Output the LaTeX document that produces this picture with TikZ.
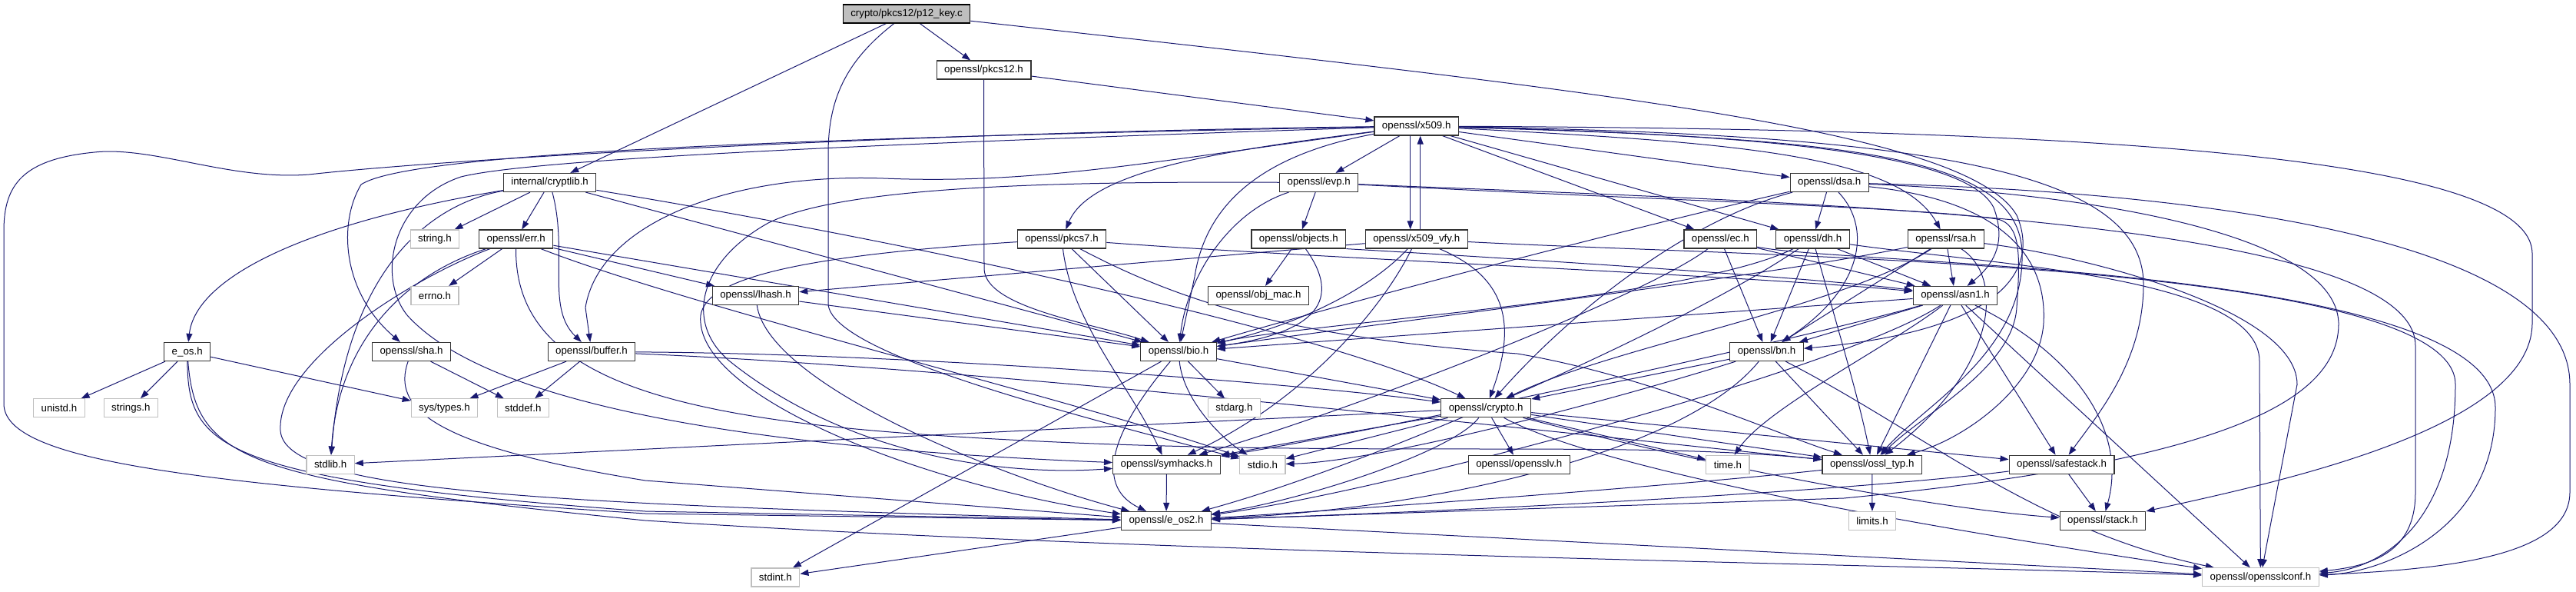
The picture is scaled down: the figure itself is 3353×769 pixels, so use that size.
\documentclass[tikz,border=0pt]{standalone}
\usepackage{fontspec}
\setmainfont{Liberation Sans}
\usetikzlibrary{arrows.meta}
\definecolor{edgeblue}{HTML}{191970}
\definecolor{grey75}{HTML}{BFBFBF}
\pgfdeclarelayer{bg}
\pgfsetlayers{bg,main}
\begin{document}
\begin{tikzpicture}[x=1pt,y=-1pt,
  nb/.style={draw=black!80, fill=white, line width=1.2pt, minimum height=24pt,
    inner xsep=10pt, inner ysep=0pt, font=\fontsize{13.3}{15}\selectfont},
  ns/.style={nb, draw=grey75},
  nr/.style={nb, fill=grey75, draw=black},
  e/.style={draw=edgeblue, line width=1pt, -{Triangle[length=11pt,width=8pt]}}]
\useasboundingbox (0,0) rectangle (3353,769);
% nodes
\node[nr] (root) at (1180,18) {crypto/pkcs12/p12\_key.c};
\node[nb] (pkcs12) at (1280.5,91) {openssl/pkcs12.h};
\node[nb] (x509) at (1843.7,164) {openssl/x509.h};
\node[nb] (cryptlib) at (715.6,237.5) {internal/cryptlib.h};
\node[nb] (evp) at (1716.7,237.5) {openssl/evp.h};
\node[nb] (dsa) at (2381.2,237.5) {openssl/dsa.h};
\node[nb] (err) at (671.7,311) {openssl/err.h};
\node[ns] (strh) at (566,311) {string.h};
\node[nb] (objects) at (1690.3,311) {openssl/objects.h};
\node[nb] (vfy) at (1843.7,311) {openssl/x509\_vfy.h};
\node[nb] (pkcs7) at (1382,311) {openssl/pkcs7.h};
\node[nb] (ec) at (2239.3,311) {openssl/ec.h};
\node[nb] (dh) at (2359.5,311) {openssl/dh.h};
\node[nb] (rsa) at (2532.8,311) {openssl/rsa.h};
\node[ns] (errno) at (566,384.5) {errno.h};
\node[nb] (lhash) at (983.5,384.5) {openssl/lhash.h};
\node[nb] (objmac) at (1638,384.5) {openssl/obj\_mac.h};
\node[nb] (asn1) at (2545,384.5) {openssl/asn1.h};
\node[nb] (eos) at (243.7,457.5) {e\_os.h};
\node[nb] (sha) at (535.6,457.5) {openssl/sha.h};
\node[nb] (buffer) at (770,457.5) {openssl/buffer.h};
\node[nb] (bio) at (1534,457.5) {openssl/bio.h};
\node[nb] (bn) at (2299.5,457.5) {openssl/bn.h};
\node[ns] (unistd) at (76.9,530.8) {unistd.h};
\node[ns] (strings) at (170.3,530.8) {strings.h};
\node[ns] (systypes) at (578.5,530.8) {sys/types.h};
\node[ns] (stddef) at (680.8,530.8) {stddef.h};
\node[ns] (stdarg) at (1606.5,530.8) {stdarg.h};
\node[nb] (crypto) at (1934.2,530.8) {openssl/crypto.h};
\node[ns] (stdlib) at (430.1,604.2) {stdlib.h};
\node[nb] (symhacks) at (1518.5,604.3) {openssl/symhacks.h};
\node[ns] (stdio) at (1643.4,604.3) {stdio.h};
\node[nb] (opensslv) at (1977.3,604.3) {openssl/opensslv.h};
\node[ns] (timeh) at (2248.9,604.3) {time.h};
\node[nb] (ossltyp) at (2436.7,604.3) {openssl/ossl\_typ.h};
\node[nb] (safestack) at (2683.5,604.3) {openssl/safestack.h};
\node[nb] (eostwo) at (1518,677.5) {openssl/e\_os2.h};
\node[ns] (limits) at (2437,677.5) {limits.h};
\node[nb] (stack) at (2737,677.5) {openssl/stack.h};
\node[ns] (stdint) at (1009.4,751) {stdint.h};
\node[ns] (conf) at (2942.4,750.8) {openssl/opensslconf.h};
\begin{pgfonlayer}{bg}
% root
\draw[e] (root) -- (cryptlib);
\draw[e] (root) -- (pkcs12);
\draw[e] (root) .. controls (1100,80) and (1078,130) .. (1078,200) -- (1078,395) .. controls (1080,460) and (1400,540) .. (stdio);
\draw[e] (root) .. controls (2100,120) and (2560,170) .. (2625,280) .. controls (2655,350) and (2610,430) .. (bn);
% pkcs12
\draw[e] (pkcs12) -- (x509);
\draw[e] (pkcs12.south) -- (1281,350) .. controls (1283,400) and (1420,420) .. (bio);
% x509
\draw[e] (x509) -- (evp);
\draw[e] ([xshift=-8pt]x509.south) -- ([xshift=-8pt]vfy.north);
\draw[e] ([xshift=5pt]vfy.north) -- ([xshift=5pt]x509.south);
\draw[e] (x509) -- (dsa);
\draw[e] (x509) -- (ec);
\draw[e] (x509) -- (dh);
\draw[e] (x509) .. controls (2250,185) and (2470,200) .. (rsa);
\draw[e] (x509) .. controls (1600,195) and (1420,220) .. (pkcs7);
\draw[e] (x509) .. controls (1000,180) and (530,200) .. (470,240) .. controls (440,290) and (445,380) .. (sha);
\draw[e] (x509) .. controls (1200,172) and (600,205) .. (402,227) .. controls (300,235) and (200,190) .. (123,198) .. controls (30,207) and (5,240) .. (5,300) -- (5,525) .. controls (5,600) and (250,630) .. (840,668) -- (eostwo);
\draw[e] (x509) .. controls (1500,210) and (1350,240) .. (1150,232) .. controls (950,225) and (780,290) .. (762,400) -- (buffer);
\draw[e] (x509) .. controls (1650,200) and (1570,260) .. (1555,360) -- (bio);
\draw[e] (x509) .. controls (2300,175) and (2560,200) .. (2595,270) .. controls (2610,310) and (2600,340) .. (asn1);
\draw[e] (x509) .. controls (2400,180) and (2630,200) .. (2632,330) .. controls (2635,460) and (2500,530) .. (ossltyp);
\draw[e] (x509) .. controls (2500,175) and (2790,220) .. (2790,370) .. controls (2790,470) and (2730,540) .. (safestack);
\draw[e] (x509) .. controls (2700,168) and (3296,200) .. (3296,330) -- (3296,420) .. controls (3296,560) and (2950,630) .. (stack);
\draw[e] (x509) .. controls (1200,185) and (700,205) .. (600,230) .. controls (510,260) and (490,360) .. (530,410) .. controls (620,510) and (900,580) .. (symhacks);
% x509_vfy
\draw[e] (vfy) -- (lhash);
\draw[e] (vfy) .. controls (1790,370) and (1700,420) .. (bio);
\draw[e] (vfy) .. controls (1800,400) and (1700,520) .. (symhacks);
\draw[e] (vfy) .. controls (1960,360) and (1975,420) .. (crypto);
\draw[e] (vfy) .. controls (2300,335) and (3196,340) .. (3196,500) .. controls (3196,680) and (3100,740) .. (conf);
% evp
\draw[e] (evp) -- (objects);
\draw[e] (evp) .. controls (1600,275) and (1545,360) .. (bio);
\draw[e] (evp) .. controls (1400,236) and (1100,240) .. (1000,290) .. controls (910,340) and (890,420) .. (950,470) .. controls (1100,590) and (1300,620) .. (symhacks);
\draw[e] (evp) .. controls (2300,262) and (3144,280) .. (3144,450) -- (3144,640) .. controls (3144,710) and (3100,735) .. (conf);
\draw[e] (evp) .. controls (2200,262) and (2500,270) .. (2600,285) .. controls (2630,292) and (2630,330) .. (2625,400) .. controls (2620,480) and (2500,540) .. (ossltyp);
% objects
\draw[e] (objects) -- (objmac);
\draw[e] (objects) .. controls (1740,380) and (1730,430) .. (bio);
\draw[e] (objects.south east) .. controls (1950,335) and (2350,360) .. (asn1);
% pkcs7
\draw[e] (pkcs7) .. controls (1700,335) and (2300,360) .. (asn1);
\draw[e] (pkcs7) -- (bio);
\draw[e] (pkcs7) .. controls (1395,420) and (1470,500) .. (symhacks);
\draw[e] (pkcs7) .. controls (1000,335) and (905,370) .. (912,420) .. controls (920,520) and (1200,630) .. (eostwo);
\draw[e] (pkcs7) .. controls (1550,400) and (1700,440) .. (1975,460) .. controls (2150,490) and (2300,560) .. (ossltyp);
% ec
\draw[e] (ec) -- (bn);
\draw[e] (ec) -- (asn1);
\draw[e] (ec) .. controls (2150,380) and (1800,520) .. (symhacks);
\draw[e] (ec) .. controls (2400,345) and (3248,345) .. (3248,530) .. controls (3248,690) and (3100,745) .. (conf);
% dh
\draw[e] (dh) -- (bn);
\draw[e] (dh) -- (asn1);
\draw[e] (dh) .. controls (2200,390) and (1700,420) .. (bio);
\draw[e] (dh) .. controls (2390,420) and (2420,520) .. (ossltyp);
\draw[e] (dh) .. controls (2600,345) and (2941,360) .. (2941,470) -- (conf);
\draw[e] (dh) .. controls (2200,420) and (1800,600) .. (eostwo);
% dsa
\draw[e] (dsa) -- (dh);
\draw[e] (dsa) .. controls (2440,300) and (2420,380) .. (bn);
\draw[e] (dsa) .. controls (2200,285) and (2050,400) .. (crypto);
\draw[e] (dsa) .. controls (2150,290) and (1800,380) .. (bio);
\draw[e] (dsa) .. controls (2700,250) and (3040,300) .. (3044,420) .. controls (3045,520) and (2900,600) .. (2400,648) -- (eostwo);
\draw[e] (dsa) .. controls (2700,245) and (3345,280) .. (3345,500) -- (3345,640) .. controls (3345,720) and (3200,740) .. (conf);
\draw[e] (dsa) .. controls (2600,260) and (2665,330) .. (2660,420) .. controls (2655,500) and (2560,570) .. (ossltyp);
% rsa
\draw[e] (rsa) -- (asn1);
\draw[e] (rsa) -- (bn);
\draw[e] (rsa) .. controls (2300,360) and (1800,420) .. (bio);
\draw[e] (rsa) .. controls (2400,400) and (2100,450) .. (crypto);
\draw[e] (rsa) .. controls (2610,360) and (2600,480) .. (ossltyp);
\draw[e] (rsa) .. controls (2700,330) and (2990,400) .. (2990,500) -- (conf);
% asn1
\draw[e] (asn1) -- (bn);
\draw[e] (asn1) -- (bio);
\draw[e] (asn1) .. controls (2460,450) and (2300,530) .. (timeh);
\draw[e] (asn1) -- (ossltyp);
\draw[e] (asn1) -- (safestack);
\draw[e] (asn1) .. controls (2700,460) and (2770,560) .. (stack);
\draw[e] (asn1) -- (conf);
\draw[e] (asn1) .. controls (2400,480) and (1800,640) .. (eostwo);
\draw[e] (asn1) .. controls (2350,440) and (1800,560) .. (symhacks);
% bn
\draw[e] (bn) -- (crypto);
\draw[e] (bn) .. controls (2100,520) and (1800,600) .. (stdio);
\draw[e] (bn) -- (ossltyp);
\draw[e] (bn) .. controls (2500,560) and (2650,690) .. (conf);
\draw[e] (bn) .. controls (2200,580) and (1900,660) .. (eostwo);
% bio
\draw[e] (bio) -- (stdarg);
\draw[e] (bio) .. controls (1540,520) and (1590,570) .. (stdio);
\draw[e] (bio) -- (crypto);
\draw[e] (bio) .. controls (1453,553) and (1420,630) .. (eostwo);
\draw[e] (bio) -- (stdint);
% crypto
\draw[e] (crypto) -- (stdlib);
\draw[e] (crypto) -- (timeh);
\draw[e] (crypto) .. controls (1892,587) and (1700,650) .. (eostwo);
\draw[e] (crypto) -- (stdio);
\draw[e] (crypto) -- (safestack);
\draw[e] (crypto) -- (opensslv);
\draw[e] (crypto) -- (ossltyp);
\draw[e] (crypto) .. controls (2100,620) and (2600,700) .. (conf);
\draw[e] (crypto) -- (symhacks);
\draw[e] (crypto) .. controls (2200,600) and (2500,660) .. (stack);
% cryptlib
\draw[e] (cryptlib) .. controls (400,290) and (255,360) .. (eos);
\draw[e] (cryptlib) .. controls (560,265) and (450,350) .. (stdlib);
\draw[e] (cryptlib) -- (strh);
\draw[e] (cryptlib) -- (err);
\draw[e] (cryptlib) .. controls (740,330) and (710,400) .. (buffer);
\draw[e] (cryptlib) -- (bio);
\draw[e] (cryptlib) .. controls (1100,300) and (1700,420) .. (crypto);
% err
\draw[e] (err) -- (errno);
\draw[e] (err) .. controls (520,360) and (440,450) .. (stdlib);
\draw[e] (err) .. controls (540,360) and (360,470) .. (365,560) .. controls (370,640) and (700,655) .. (eostwo);
\draw[e] (err) .. controls (900,400) and (1400,520) .. (stdio);
\draw[e] (err) -- (lhash);
\draw[e] (err) -- (bio);
\draw[e] (err) .. controls (670,480) and (840,540) .. (1200,565) .. controls (1700,600) and (2100,570) .. (ossltyp);
% lhash
\draw[e] (lhash) -- (bio);
\draw[e] (lhash) .. controls (1000,500) and (1300,620) .. (eostwo);
% buffer
\draw[e] (buffer) -- (systypes);
\draw[e] (buffer) -- (stddef);
\draw[e] (buffer) .. controls (1200,460) and (1700,500) .. (crypto);
\draw[e] (buffer) .. controls (1300,480) and (2000,560) .. (ossltyp);
% sha
\draw[e] (sha) -- (stddef);
\draw[e] (sha) .. controls (510,530) and (560,580) .. (840,625) -- (eostwo);
% e_os
\draw[e] (eos) -- (unistd);
\draw[e] (eos) -- (strings);
\draw[e] (eos) -- (systypes);
\draw[e] (eos) .. controls (245,580) and (280,625) .. (840,665) -- (eostwo);
\draw[e] (eos) .. controls (255,600) and (320,625) .. (840,677) .. controls (1500,720) and (2500,735) .. (conf);
% others
\draw[e] (symhacks) -- (eostwo);
\draw[e] (ossltyp) -- (limits);
\draw[e] (ossltyp) .. controls (2200,630) and (1800,660) .. (eostwo);
\draw[e] (safestack) -- (stack);
\draw[e] (safestack) .. controls (2400,640) and (1900,665) .. (eostwo);
\draw[e] (eostwo) -- (stdint);
\draw[e] (eostwo) -- (conf);
\end{pgfonlayer}
\end{tikzpicture}
\end{document}
